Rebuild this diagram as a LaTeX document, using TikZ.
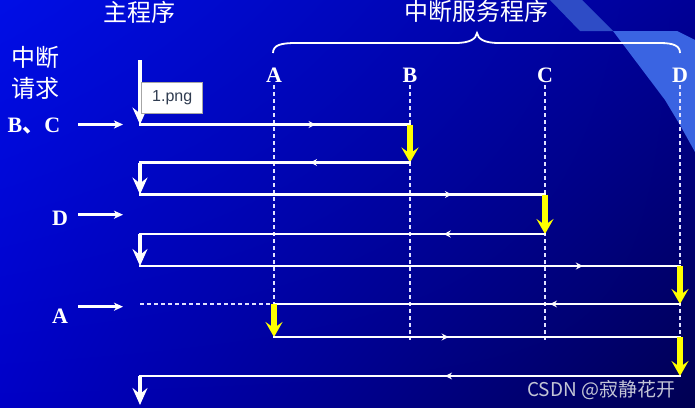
\documentclass[tikz,border=0pt]{standalone}
\usepackage{fontspec}
\setmainfont{Liberation Serif}
\newfontfamily\cjk{Noto Sans CJK SC}
\newfontfamily\sansf{Liberation Sans}
\usetikzlibrary{arrows.meta,decorations.markings,calc,shadings}
\definecolor{bgTL}{RGB}{0,14,230}
\definecolor{bgTR}{RGB}{0,0,150}
\definecolor{bgBL}{RGB}{0,0,198}
\definecolor{bgBR}{RGB}{0,0,82}
\definecolor{bandMid}{RGB}{46,76,198}
\definecolor{bandLite}{RGB}{58,100,226}
\definecolor{irqYellow}{RGB}{255,255,0}
\definecolor{markGray}{RGB}{196,198,214}
\definecolor{tagText}{RGB}{48,60,80}

\begin{document}
\begin{tikzpicture}[
    x=1pt, y=-1pt,
    heading/.style={text=white, font=\cjk\fontsize{24}{31}\selectfont, inner sep=0pt, align=center},
    lanelabel/.style={text=white, font=\fontsize{22}{22}\selectfont\bfseries, inner sep=0pt, anchor=base},
    flow/.style={draw=white, line width=2.6pt, line cap=rect},
    midtip/.style={postaction={decorate}, decoration={markings,
        mark=at position #1 with {\arrow[white]{Stealth[length=7pt,width=7pt,inset=2.5pt]}}}},
    mainarrow/.style={draw=white, line width=3.5pt, -{Stealth[length=17pt,width=15pt,inset=6pt]}},
    irqarrow/.style={draw=irqYellow, line width=5.5pt, -{Stealth[length=15pt,width=17pt,inset=6pt]}},
    reqarrow/.style={draw=white, line width=2.6pt, -{Stealth[length=9pt,width=8pt,inset=2.5pt]}},
    lane/.style={draw=white!88!blue, line width=1.2pt, dash pattern=on 4pt off 3pt},
]
\useasboundingbox (0,0) rectangle (695,407);

% Background
\shade[upper left=bgTL, upper right=bgTR, lower left=bgBL, lower right=bgBR]
    (0,0) rectangle (695,407);
\fill[bandMid] (550,0) -- (582,0) -- (613,31) -- (580,31) -- cycle;
\fill[bandLite] (613,31) -- (677,31) -- (695,40) -- (695,152) -- (680,125) -- (665,100) -- cycle;

% Headings
\node[heading] (mainhead) at (139,12) {主程序};
\node[heading] (isrhead)  at (476,11) {中断服务程序};
\node[heading] (reqhead)  at (36,72.5) {中断\\请求};

% Brace over the service routines
\draw[white, line width=1.8pt] (273,53) .. controls (273,45) and (281,43) .. (296,43) -- (455,43)
    .. controls (470,43) and (476,39) .. (477,33) .. controls (478,39) and (484,43) .. (499,43)
    -- (660,43) .. controls (674,43) and (680,46) .. (680,53);

% Service routine lanes
\foreach \ln/\x/\yend in {A/274/303, B/410/340, C/545/340, D/680/340} {
    \node[lanelabel] (lab\ln) at (\x,82) {\ln};
    \coordinate (end\ln) at (\x,\yend);
    \draw[lane] ([yshift=-3pt]lab\ln.base) -- (end\ln);
}

% Row levels
\coordinate (top) at (140,60);
\coordinate (bot) at (140,405);
\foreach \i/\y in {1/124.5, 2/162.5, 3/194.5, 4/234, 5/266, 6/304, 7/337, 8/376}
    \coordinate (r\i) at (0,\y);

% Main program and interrupts
\draw[mainarrow] (top) -- (top |- r1);
\draw[flow, midtip=0.65] (top |- r1) -- (labB |- r1);
\draw[irqarrow] (labB |- r1) -- (labB |- r2);
\draw[flow, midtip=0.37] (labB |- r2) -- (top |- r2);
\draw[mainarrow] (top |- r2) -- (top |- r3);

\draw[flow, midtip=0.77] (top |- r3) -- (labC |- r3);
\draw[irqarrow] (labC |- r3) -- (labC |- r4);
\draw[flow, midtip=0.25] (labC |- r4) -- (top |- r4);
\draw[mainarrow] (top |- r4) -- (top |- r5);

\draw[flow, midtip=0.82] (top |- r5) -- (labD |- r5);
\draw[irqarrow] (labD |- r5) -- (labD |- r6);
\draw[flow, midtip=0.32] (labD |- r6) -- (labA |- r6);
\draw[lane] (top |- r6) -- (labA |- r6);
\draw[irqarrow] (labA |- r6) -- (labA |- r7);
\draw[flow, midtip=0.43] (labA |- r7) -- (labD |- r7);
\draw[irqarrow] (labD |- r7) -- (labD |- r8);
\draw[flow, midtip=0.435] (labD |- r8) -- (top |- r8);
\draw[mainarrow] (top |- r8) -- (bot);

% Interrupt requests
\node[lanelabel] (reqBC) at (34,132.5) {B{\cjk 、}C};
\node[lanelabel] (reqD)  at (60,225) {D};
\node[lanelabel] (reqA)  at (60,323) {A};
\foreach \rq/\y in {BC/124.5, D/214.7, A/306.7} {
    \coordinate (in\rq)  at (78,\y);
    \coordinate (out\rq) at (123,\y);
    \draw[reqarrow] (in\rq) -- (out\rq);
}

% Image tag and watermark
\node[draw=gray!70, fill=white, line width=0.6pt, minimum width=61pt, minimum height=31pt,
      inner sep=0pt, font=\sansf\fontsize{16}{16}\selectfont, text=tagText] (imgtag) at (172.2,97.8) {1.png};
\node[font=\cjk\fontsize{19}{19}\selectfont, text=markGray, inner sep=0pt, anchor=base west]
    (csdn) at (527,396) {CSDN @寂静花开};

\end{tikzpicture}
\end{document}
